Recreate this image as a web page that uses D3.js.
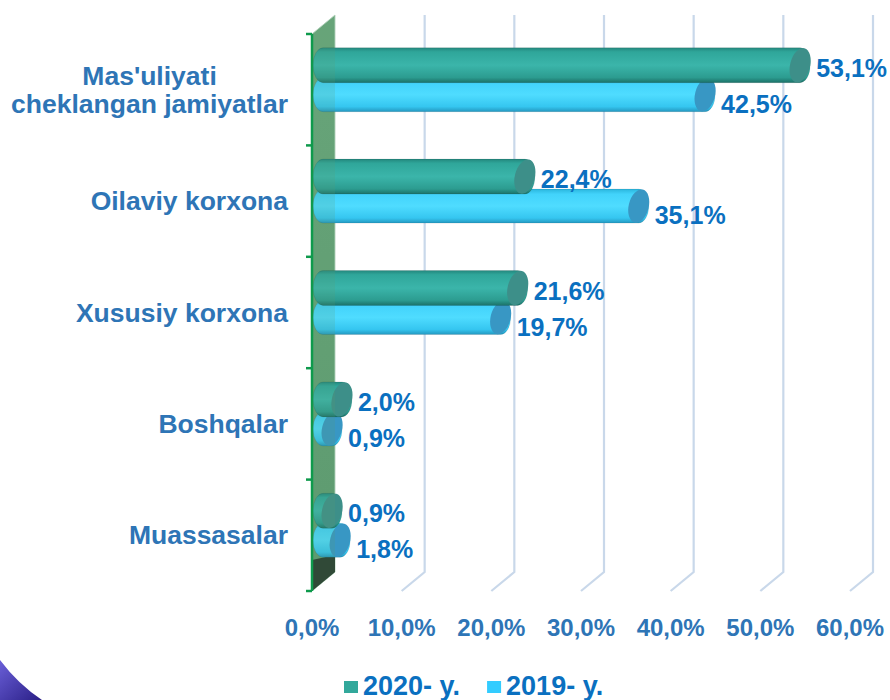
<!DOCTYPE html>
<html>
<head>
<meta charset="utf-8">
<script src="https://cdn.jsdelivr.net/npm/d3@7"></script>
<style>
  html, body { margin: 0; padding: 0; background: #fff; }
  svg { display: block; font-family: "Liberation Sans", Arial, sans-serif; font-weight: bold; }
</style>
</head>
<body>
<div id="chart"></div>
<script>
// chart data
const categories = ["Mas'uliyati\ncheklangan jamiyatlar", "Oilaviy korxona", "Xususiy korxona", "Boshqalar", "Muassasalar"];
const series2020 = [53.1, 22.4, 21.6, 2.0, 0.9];
const series2019 = [42.5, 35.1, 19.7, 0.9, 1.8];
const seriesNames = ["2020- y.", "2019- y."];
const xTicks = [0, 10, 20, 30, 40, 50, 60];

const W = 890, H = 700;
const depth = { dx: 23, dy: -19 };

const svg = d3.select("#chart").append("svg")
    .attr("width", W)
    .attr("height", H);

const x = d3.scaleLinear().domain([0, 60]).range([312, 850]);
const y = d3.scaleBand().domain(categories).range([34, 591]).padding(0);

const fmt = v => d3.format(".1f")(v).replace(".", ",") + "%";

const defs = svg.append("defs");
function vGrad(id, stops) {
    const g = defs.append("linearGradient").attr("id", id)
        .attr("x1", 0).attr("y1", 0).attr("x2", 0).attr("y2", 1);
    stops.forEach(s => g.append("stop").attr("offset", s[0]).attr("stop-color", s[1]));
}
vGrad("g2020", [[0, "#23877d"], [0.12, "#2fa69a"], [0.5, "#3bb5aa"], [0.85, "#2c9c90"], [1, "#1b7168"]]);
vGrad("g2019", [[0, "#2bb6dd"], [0.15, "#42d3fb"], [0.5, "#4fdcff"], [0.85, "#35c6f0"], [1, "#2498c0"]]);
vGrad("gWall", [[0, "#6aa77c"], [1, "#5e9b70"]]);
const pg = defs.append("linearGradient").attr("id", "gPurple")
    .attr("x1", 0).attr("y1", 0).attr("x2", 1).attr("y2", 1);
pg.append("stop").attr("offset", 0).attr("stop-color", "#6a5fd8");
pg.append("stop").attr("offset", 1).attr("stop-color", "#2a1f86");

// back gridlines with floor diagonals
const grid = svg.append("g");
xTicks.filter(t => t > 0).forEach(t => {
    grid.append("path")
        .attr("d", `M${x(t)},${y.range()[1]} L${x(t) + depth.dx},${y.range()[1] + depth.dy} L${x(t) + depth.dx},${y.range()[0] + depth.dy}`)
        .attr("fill", "none")
        .attr("stroke", "#c9d8ea")
        .attr("stroke-width", 2.2);
});

// side wall
const wallPts = [[x(0), y.range()[0]], [x(0) + depth.dx, y.range()[0] + depth.dy],
                 [x(0) + depth.dx, y.range()[1] + depth.dy], [x(0), y.range()[1]]];
svg.append("polygon")
    .attr("points", wallPts.map(p => p.join(",")).join(" "))
    .attr("fill", "url(#gWall)")
    .attr("stroke", "#b9d6c2")
    .attr("stroke-width", 1);
svg.append("polygon")
    .attr("points", [[x(0), 560], [x(0) + depth.dx, 555], [x(0) + depth.dx, y.range()[1] + depth.dy], [x(0), y.range()[1]]].map(p => p.join(",")).join(" "))
    .attr("fill", "#26382b");

// cylinders
const bw = y.bandwidth();
const barSets = [
    { vals: series2019, grad: "url(#g2019)", face: "#3897c4", top: 0.5 * bw - 12, h: 34, lab: 14 },
    { vals: series2020, grad: "url(#g2020)", face: "#3d8f89", top: 0.5 * bw - 42, h: 35, lab: -22 }
];
const bars = svg.append("g");
barSets.forEach(set => {
    categories.forEach((c, i) => {
        const v = set.vals[i];
        const y0 = y(c) + set.top, y1 = y0 + set.h;
        const ry = set.h / 2, rx = 10;
        const x0 = x(0) + 1;
        const xe = Math.max(x(v) + 22, x0 + 2 * rx + 8);
        const g = bars.append("g");
        g.append("path")
            .attr("d", `M${x0 + rx},${y0} L${xe - rx},${y0} A${rx},${ry} 0 0 1 ${xe - rx},${y1} L${x0 + rx},${y1} A${rx},${ry} 0 0 1 ${x0 + rx},${y0} Z`)
            .attr("fill", set.grad)
            .attr("stroke", "rgba(0,0,0,0.12)")
            .attr("stroke-width", 0.8);
        g.append("ellipse")
            .attr("cx", xe - rx)
            .attr("cy", (y0 + y1) / 2)
            .attr("rx", rx)
            .attr("ry", ry)
            .attr("transform", `rotate(14,${xe - rx},${(y0 + y1) / 2})`)
            .attr("fill", set.face);
        svg.append("text")
            .attr("x", xe + 6)
            .attr("y", y(c) + bw / 2 + set.lab)
            .attr("dominant-baseline", "central")
            .attr("font-size", 25)
            .attr("fill", "#0a70c0")
            .text(fmt(v));
    });
});

// wall tint over the bar roots
svg.append("polygon")
    .attr("points", wallPts.map(p => p.join(",")).join(" "))
    .attr("fill", "#5e9b70")
    .attr("opacity", 0.18);

// front axis
const axisG = svg.append("g");
axisG.append("line")
    .attr("x1", x(0)).attr("x2", x(0))
    .attr("y1", y.range()[0]).attr("y2", y.range()[1])
    .attr("stroke", "#0e9a4c").attr("stroke-width", 2.5);
d3.range(categories.length + 1).forEach(i => {
    const yy = y.range()[0] + i * bw;
    axisG.append("line")
        .attr("x1", x(0) - 6).attr("x2", x(0))
        .attr("y1", yy).attr("y2", yy)
        .attr("stroke", "#0e9a4c").attr("stroke-width", 2.5);
});

// category labels
categories.forEach(c => {
    const lines = c.split("\n");
    const t = svg.append("text")
        .attr("font-size", 26.5)
        .attr("fill", "#2e75b6")
        .attr("text-anchor", "middle");
    const spans = lines.map((l, k) => t.append("tspan")
        .attr("y", y(c) + bw / 2 + (k - (lines.length - 1) / 2) * 28)
        .attr("dominant-baseline", "central")
        .text(l));
    const maxW = d3.max(spans, s => s.node().getComputedTextLength());
    spans.forEach(s => s.attr("x", 288 - maxW / 2));
});

// x tick labels
svg.append("g").selectAll("text")
    .data(xTicks)
    .join("text")
    .attr("x", d => x(d))
    .attr("y", 627)
    .attr("text-anchor", "middle")
    .attr("dominant-baseline", "central")
    .attr("font-size", 24)
    .attr("fill", "#2e75b6")
    .text(d => fmt(d));

// legend
const legend = svg.append("g");
const legendColors = ["#32a89b", "#33ccff"];
let lx = 344;
seriesNames.forEach((n, i) => {
    legend.append("rect")
        .attr("x", lx).attr("y", 681)
        .attr("width", 14).attr("height", 12)
        .attr("fill", legendColors[i]);
    const t = legend.append("text")
        .attr("x", lx + 19).attr("y", 695)
        .attr("font-size", 27)
        .attr("fill", "#0a70c0")
        .text(n);
    lx += 19 + t.node().getComputedTextLength() + 27;
});

// corner decoration from the slide
svg.append("path")
    .attr("d", "M0,660 Q18,684 42,700 L0,700 Z")
    .attr("fill", "url(#gPurple)");
</script>
</body>
</html>
